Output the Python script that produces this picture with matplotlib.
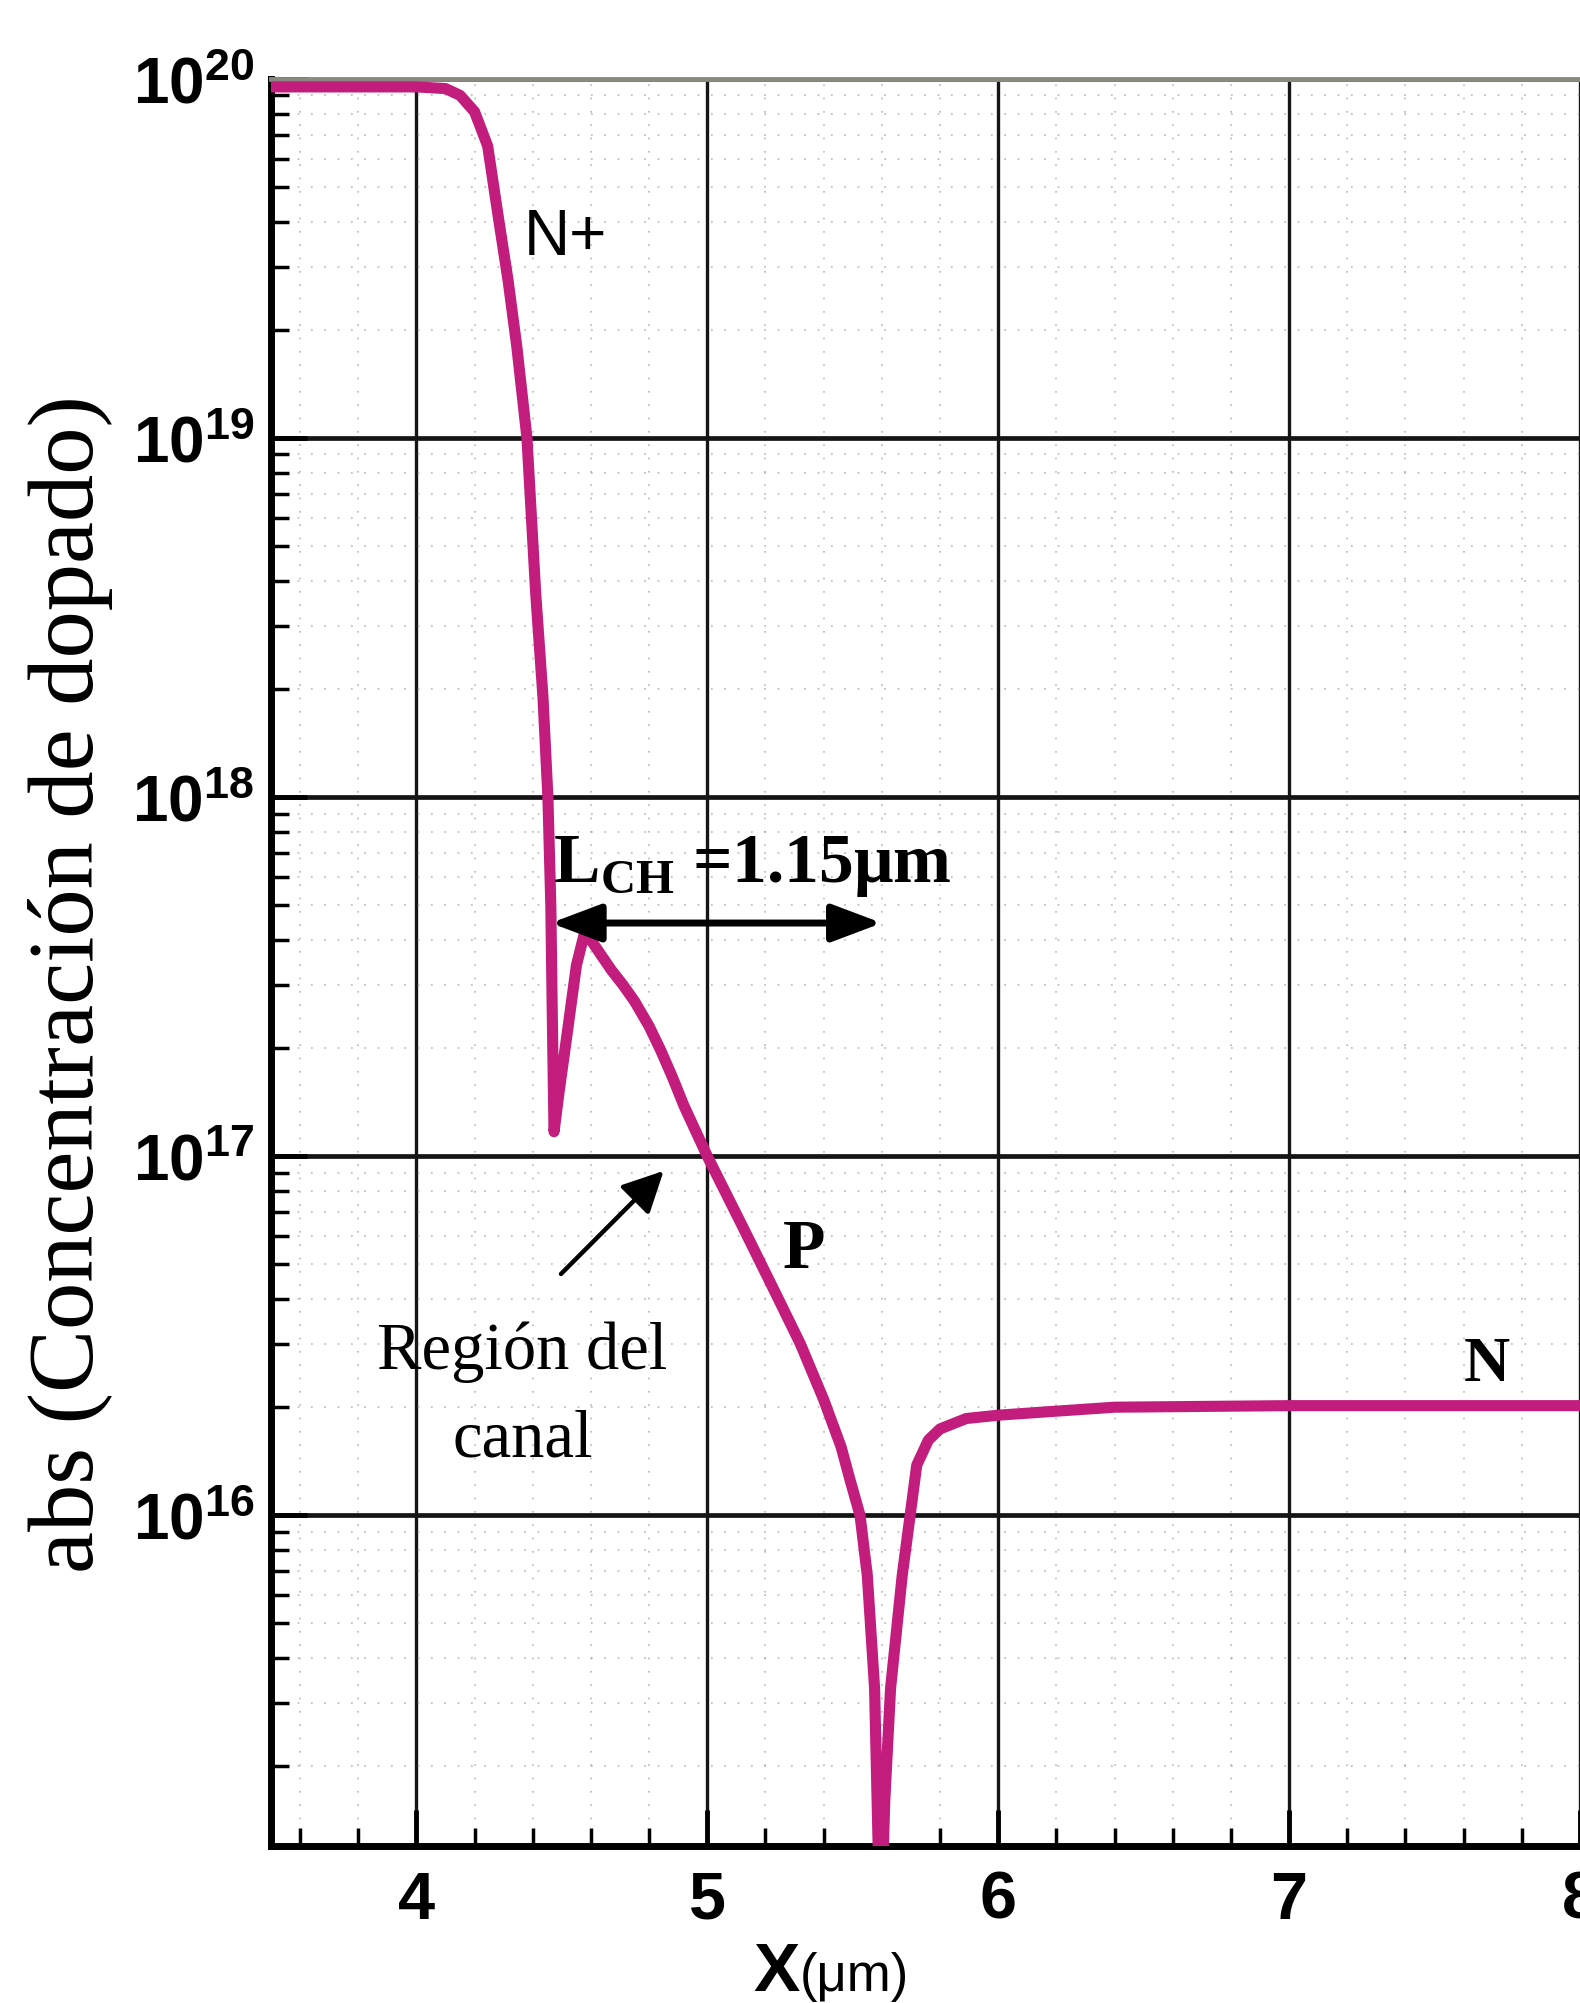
"""Perfil de dopado (abs) a lo largo de X, escala logaritmica"""

import matplotlib
matplotlib.use("Agg")
import matplotlib.pyplot as plt
from matplotlib.ticker import FixedLocator, LogLocator, FuncFormatter, NullFormatter
import numpy as np

# posiciones (um) y concentracion de dopado (cm^-3)
x_um = [3.50, 3.80, 4.00, 4.10, 4.15, 4.20, 4.245, 4.28, 4.315, 4.345,
        4.38, 4.41, 4.435, 4.452, 4.462, 4.467, 4.473, 4.49, 4.52, 4.55,
        4.575, 4.60, 4.633, 4.67, 4.71, 4.75, 4.80, 4.84, 4.88, 4.92,
        5.00, 5.06, 5.12, 5.17, 5.24, 5.32, 5.40, 5.46, 5.49, 5.525,
        5.55, 5.575, 5.595, 5.61, 5.63, 5.67, 5.72, 5.76, 5.80, 5.89,
        6.00, 6.20, 6.40, 7.00, 8.00]
dopado = [9.5e19, 9.5e19, 9.5e19, 9.4e19, 9.0e19, 8.1e19, 6.5e19, 4.2e19, 2.75e19, 1.8e19,
          1.0e19, 3.7e18, 1.9e18, 1.0e18, 5.0e17, 2.5e17, 1.17e17, 1.5e17, 2.25e17, 3.4e17,
          4.1e17, 4.0e17, 3.65e17, 3.3e17, 3.0e17, 2.7e17, 2.3e17, 1.97e17, 1.66e17, 1.38e17,
          1.0e17, 8.0e16, 6.4e16, 5.3e16, 4.07e16, 3.0e16, 2.1e16, 1.55e16, 1.26e16, 1.0e16,
          6.8e15, 3.3e15, 6.3e14, 1.6e15, 3.3e15, 6.8e15, 1.38e16, 1.62e16, 1.74e16, 1.86e16,
          1.9e16, 1.95e16, 2.0e16, 2.02e16, 2.02e16]

x_ticks = [4, 5, 6, 7, 8]
x_lims = (3.5, 8.0)
y_lims = (1.2e15, 1e20)

# cota del canal
lch_x = (4.462, 5.60)
lch_y = 4.46e17
region_flecha = ((4.497, 4.7e16), (4.85, 9.1e16))

plt.rcParams["mathtext.fontset"] = "custom"
plt.rcParams["mathtext.rm"] = "Liberation Serif:bold"
plt.rcParams["mathtext.bf"] = "Liberation Sans:bold"

curve_color = "#c21c7c"
serif = "Liberation Serif"
sans = "Liberation Sans"

fig = plt.figure(figsize=(15.8, 20.03), dpi=100)
ax = fig.add_axes([0.1715, 0.0784, 0.8285, 0.8822])

ax.set_yscale("log")
ax.set_xlim(*x_lims)
ax.set_ylim(*y_lims)

# rejilla
ax.xaxis.set_major_locator(FixedLocator(x_ticks))
ax.xaxis.set_minor_locator(FixedLocator(np.arange(3.6, 8.0, 0.2)))
ax.yaxis.set_major_locator(LogLocator(base=10, numticks=20))
ax.yaxis.set_minor_locator(LogLocator(base=10, subs=range(2, 10), numticks=40))
ax.yaxis.set_minor_formatter(NullFormatter())
ax.yaxis.set_major_formatter(FuncFormatter(lambda v, p: r"$\mathbf{10^{%d}}$" % round(np.log10(v))))

ax.grid(which="major", axis="y", color="#151515", lw=3.4, zorder=1)
ax.grid(which="major", axis="x", color="#151515", lw=2.4, zorder=1)
ax.grid(which="minor", axis="both", color="#999999", lw=1.2, linestyle=(0, (1, 7)), alpha=0.7)
ax.set_axisbelow(True)

ax.tick_params(which="major", direction="in", length=26, width=3.5, color="black")
ax.tick_params(which="minor", direction="in", length=13, width=2.5, color="black")
ax.tick_params(axis="x", which="major", pad=18)
ax.tick_params(axis="y", which="major", pad=12)
ax.tick_params(right=False, top=False, which="both")

for lbl in ax.get_xticklabels():
    lbl.set_fontfamily(sans)
    lbl.set_fontweight("bold")
    lbl.set_fontsize(48)
for lbl in ax.get_yticklabels():
    lbl.set_fontsize(46)

for side in ["left", "bottom"]:
    ax.spines[side].set_linewidth(5)
    ax.spines[side].set_color("black")
ax.spines["top"].set_linewidth(3.5)
ax.spines["top"].set_color("#8a8a80")
ax.spines["right"].set_visible(False)

# curva
ax.plot(x_um, dopado, color=curve_color, lw=8, solid_joinstyle="round", zorder=3)

# etiquetas de regiones
ax.text(4.37, 3.6e19, "N+", fontsize=46, family=sans, ha="left", va="center", zorder=4)
ax.text(5.333, 5.45e16, "P", fontsize=50, family=serif, weight="bold", ha="center", va="center", zorder=4)
ax.text(7.68, 2.6e16, "N", fontsize=46, family=serif, weight="bold", ha="center", va="center", zorder=4)

ax.text(4.365, 2.85e16, "Región del", fontsize=48, family=serif, ha="center", va="center", zorder=4)
ax.text(4.366, 1.62e16, "canal", fontsize=48, family=serif, ha="center", va="center", zorder=4)
ax.annotate("", xy=region_flecha[1], xytext=region_flecha[0],
            arrowprops=dict(arrowstyle="-|>,head_length=0.9,head_width=0.45", lw=3.2,
                            color="black", mutation_scale=28, shrinkA=0, shrinkB=0), zorder=4)

# longitud de canal
ax.annotate("", xy=(lch_x[0], lch_y), xytext=(lch_x[1], lch_y),
            arrowprops=dict(arrowstyle="<|-|>,head_length=0.85,head_width=0.32", lw=5,
                            color="black", mutation_scale=36, shrinkA=0, shrinkB=0), zorder=5)
ax.text(4.47, 6.4e17, r"L$_{\mathrm{CH}}$ =1.15μm", fontsize=50, family=serif, weight="bold",
        ha="left", va="center", zorder=5)

# ejes
ax.set_ylabel("abs (Concentración de dopado)", fontsize=68, family=serif)
ax.yaxis.set_label_coords(-0.121, 0.488)
ax.set_xlabel("X", fontsize=50, family=sans, weight="bold")
ax.xaxis.set_label_coords(0.3866, -0.054)
ax.annotate("(μm)", xy=(1, 0.45), xycoords=ax.xaxis.label, fontsize=38, family=sans,
            ha="left", va="center")

fig.savefig("out.png", dpi=100)
